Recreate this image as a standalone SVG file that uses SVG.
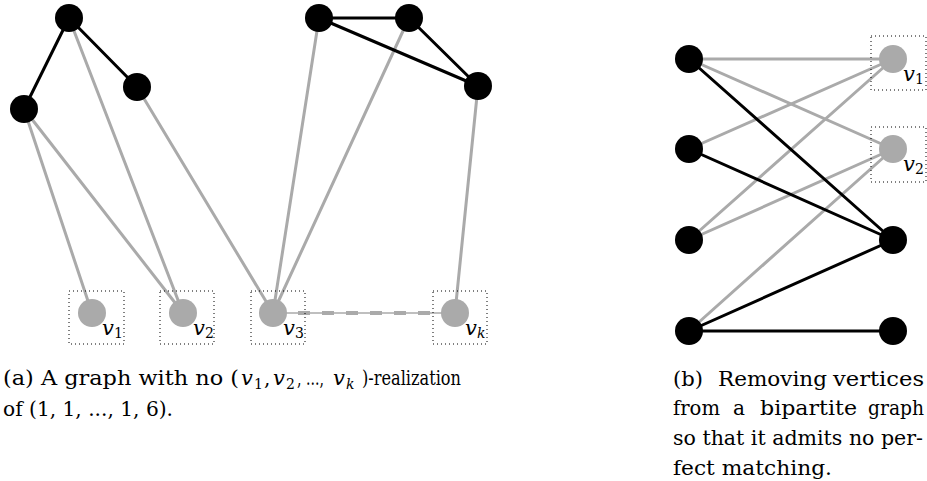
<svg xmlns="http://www.w3.org/2000/svg" width="927" height="481" viewBox="0 0 927 481">
<style>
.bk{stroke:#000;stroke-width:3;fill:none;stroke-linecap:round}
.gr{stroke:#aaaaaa;stroke-width:3;fill:none;stroke-linecap:round}
.nb{fill:#000}
.ng{fill:#aaaaaa}
.box{fill:none;stroke:#000;stroke-width:1;stroke-dasharray:1 3}
.t{font-size:20px}
.m{font-size:21px;font-style:italic}
.s{font-size:14px}
.si{font-size:14px;font-style:italic}
</style>
<rect width="927" height="481" fill="#fff"/>
<g id="connectors">
  <line class="gr" x1="69" y1="18" x2="183" y2="313"/>
  <line class="gr" x1="24" y1="109" x2="92" y2="313"/>
  <line class="gr" x1="24" y1="109" x2="183" y2="313"/>
  <line class="gr" x1="137" y1="87" x2="273" y2="313"/>
  <line class="gr" x1="319" y1="18" x2="273" y2="313"/>
  <line class="gr" x1="409" y1="18" x2="273" y2="313"/>
  <line class="gr" x1="478" y1="86" x2="455" y2="313"/>
  <line x1="273" y1="313" x2="455" y2="313" stroke="#aaaaaa" stroke-width="1.5"/>
  <line x1="298" y1="313" x2="431" y2="313" stroke="#aaaaaa" stroke-width="4" stroke-dasharray="12 12"/>
  <line class="bk" x1="69" y1="18" x2="24" y2="109"/>
  <line class="bk" x1="69" y1="18" x2="137" y2="87"/>
  <line class="bk" x1="319" y1="18" x2="409" y2="18"/>
  <line class="bk" x1="319" y1="18" x2="478" y2="86"/>
  <line class="bk" x1="409" y1="18" x2="478" y2="86"/>
  <line class="gr" x1="689" y1="59" x2="893" y2="59"/>
  <line class="gr" x1="689" y1="59" x2="893" y2="149"/>
  <line class="gr" x1="689" y1="149" x2="893" y2="59"/>
  <line class="gr" x1="689" y1="240" x2="893" y2="59"/>
  <line class="gr" x1="689" y1="240" x2="893" y2="149"/>
  <line class="gr" x1="689" y1="331" x2="893" y2="149"/>
  <line class="bk" x1="689" y1="59" x2="893" y2="240"/>
  <line class="bk" x1="689" y1="149" x2="893" y2="240"/>
  <line class="bk" x1="689" y1="331" x2="893" y2="240"/>
  <line class="bk" x1="689" y1="331" x2="893" y2="331"/>
</g>
<g id="a1"><circle class="nb" cx="69" cy="18" r="14"/></g>
<g id="a2"><circle class="nb" cx="24" cy="109" r="14"/></g>
<g id="a3"><circle class="nb" cx="137" cy="87" r="14"/></g>
<g id="a4"><circle class="nb" cx="319" cy="18" r="14"/></g>
<g id="a5"><circle class="nb" cx="409" cy="18" r="14"/></g>
<g id="a6"><circle class="nb" cx="478" cy="86" r="14"/></g>
<g id="b1"><circle class="nb" cx="689" cy="59" r="14"/></g>
<g id="b2"><circle class="nb" cx="689" cy="149" r="14"/></g>
<g id="b3"><circle class="nb" cx="689" cy="240" r="14"/></g>
<g id="b4"><circle class="nb" cx="689" cy="331" r="14"/></g>
<g id="b7"><circle class="nb" cx="893" cy="240" r="14"/></g>
<g id="b8"><circle class="nb" cx="893" cy="331" r="14"/></g>
<g font-family="DejaVu Serif, Liberation Serif, serif" fill="#000">
<g id="av1"><rect class="box" x="69" y="291" width="55" height="53"/><circle class="ng" cx="92" cy="313" r="14"/><text class="m" x="102" y="335">v</text><text class="s" x="114" y="338">1</text></g>
<g id="av2"><rect class="box" x="160" y="291" width="54" height="53"/><circle class="ng" cx="183" cy="313" r="14"/><text class="m" x="193" y="335">v</text><text class="s" x="205" y="338">2</text></g>
<g id="av3"><rect class="box" x="251" y="291" width="54" height="53"/><circle class="ng" cx="273" cy="313" r="14"/><text class="m" x="283" y="335">v</text><text class="s" x="295" y="338">3</text></g>
<g id="avk"><rect class="box" x="433" y="291" width="54" height="53"/><circle class="ng" cx="455" cy="313" r="14"/><text class="m" x="465" y="335">v</text><text class="si" x="477" y="338">k</text></g>
<g id="bv1"><rect class="box" x="871" y="36" width="55" height="54"/><circle class="ng" cx="893" cy="59" r="14"/><text class="m" x="903" y="81">v</text><text class="s" x="915" y="84">1</text></g>
<g id="bv2"><rect class="box" x="871" y="127" width="55" height="55"/><circle class="ng" cx="893" cy="149" r="14"/><text class="m" x="903" y="171">v</text><text class="s" x="915" y="174">2</text></g>
<g id="caption-a">
  <text class="t" x="3" y="385" textLength="236" lengthAdjust="spacingAndGlyphs">(a) A graph with no (</text>
  <text class="m" x="241" y="385">v</text><text class="s" x="254" y="389">1</text>
  <text class="t" x="264" y="385">,</text>
  <text class="m" x="273" y="385">v</text><text class="s" x="286" y="389">2</text>
  <text class="t" x="297" y="385" textLength="27" lengthAdjust="spacingAndGlyphs">, ...,</text>
  <text class="m" x="333" y="385">v</text><text class="si" x="346" y="389">k</text>
  <text class="t" x="362" y="385" textLength="99" lengthAdjust="spacingAndGlyphs">)-realization</text>
  <text class="t" x="3" y="416" textLength="170" lengthAdjust="spacingAndGlyphs">of (1, 1, ..., 1, 6).</text>
</g>
<g id="caption-b">
  <text class="t" x="673" y="386" textLength="30" lengthAdjust="spacingAndGlyphs">(b)</text>
  <text class="t" x="718" y="386" textLength="109" lengthAdjust="spacingAndGlyphs">Removing</text>
  <text class="t" x="833" y="386" textLength="91" lengthAdjust="spacingAndGlyphs">vertices</text>
  <text class="t" x="673" y="415" textLength="47" lengthAdjust="spacingAndGlyphs">from</text>
  <text class="t" x="733" y="415" textLength="12" lengthAdjust="spacingAndGlyphs">a</text>
  <text class="t" x="760" y="415" textLength="97" lengthAdjust="spacingAndGlyphs">bipartite</text>
  <text class="t" x="868" y="415" textLength="56" lengthAdjust="spacingAndGlyphs">graph</text>
  <text class="t" x="673" y="445" textLength="250" lengthAdjust="spacingAndGlyphs">so that it admits no per-</text>
  <text class="t" x="673" y="475" textLength="159" lengthAdjust="spacingAndGlyphs">fect matching.</text>
</g>
</g>
</svg>
